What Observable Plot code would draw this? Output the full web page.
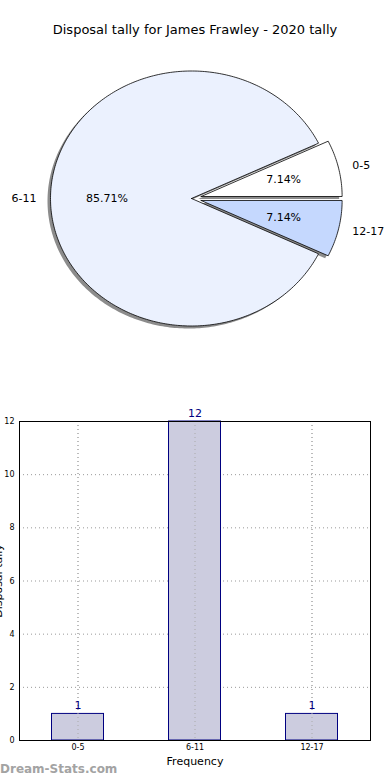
<!DOCTYPE html>
<html><head><meta charset="utf-8">
<script src="https://cdn.jsdelivr.net/npm/d3@7"></script>
<script src="https://cdn.jsdelivr.net/npm/@observablehq/plot@0.6"></script>
<style>
body{margin:0;background:#fff;font-family:"DejaVu Sans",sans-serif;}
#wrap{position:relative;width:390px;height:780px;overflow:hidden;}
#title{position:absolute;left:0;top:22px;width:390px;text-align:center;font-size:13px;color:#000;}
#pie{position:absolute;left:0;top:0;}
#bar{position:absolute;left:0;top:400px;}
#wm{position:absolute;left:0;top:762px;font-size:12px;font-weight:bold;color:#a3a3a3;}
</style></head>
<body><div id="wrap"><div id="pie"></div><div id="bar"></div><div id="title">Disposal tally for James Frawley - 2020 tally</div><div id="wm">Dream-Stats.com</div></div>
<script>
const categories = ["0-5", "6-11", "12-17"];
const counts = [1, 12, 1];
const pieColors = ["#ffffff", "#ebf1fe", "#c5d8fe"];
const explode = [0.07, 0, 0.07];
const yTicks = [0, 2, 4, 6, 8, 10, 12];
const xLabel = "Frequency";
const yLabel = "Disposal tally";

const total = d3.sum(counts);
const wedges = [], labels = [];
let a = 0;
categories.forEach((c, i) => {
  const a0 = a, a1 = a + counts[i] / total * 2 * Math.PI;
  a = a1;
  const mid = (a0 + a1) / 2;
  const ox = explode[i] * Math.cos(mid), oy = explode[i] * Math.sin(mid);
  wedges.push({slice: c, fill: pieColors[i], x: ox, y: oy});
  const n = Math.max(8, Math.ceil((a1 - a0) / (Math.PI / 180)));
  for (let k = 0; k <= n; k++) {
    const t = a0 + (a1 - a0) * k / n;
    wedges.push({slice: c, fill: pieColors[i], x: ox + Math.cos(t), y: oy + Math.sin(t)});
  }
  wedges.push({slice: c, fill: pieColors[i], x: ox, y: oy});
  const lx = ox + 1.1 * Math.cos(mid), ly = oy + 1.1 * Math.sin(mid);
  labels.push({text: c, x: lx, y: ly, anchor: lx > 0 ? "start" : "end"});
  labels.push({text: (counts[i] / total * 100).toFixed(2) + "%", x: ox + 0.6 * Math.cos(mid), y: oy + 0.6 * Math.sin(mid), anchor: "middle"});
});

const cx = 191, cy = 198, rx = 141, ry = 127.5;
const pie = Plot.plot({
  width: 390, height: 400, margin: 0,
  style: {fontFamily: "DejaVu Sans", fontSize: "11px", background: "transparent"},
  x: {type: "linear", domain: [-1, 1], range: [cx - rx, cx + rx], axis: null},
  y: {type: "linear", domain: [-1, 1], range: [cy + ry, cy - ry], axis: null},
  color: {type: "identity"},
  marks: [
    Plot.line(wedges, {x: "x", y: "y", z: "slice", fill: "#808080", fillOpacity: 0.9, stroke: "none", dx: -3, dy: 2.5, curve: "linear"}),
    Plot.line(wedges, {x: "x", y: "y", z: "slice", fill: "fill", stroke: "#000", strokeWidth: 0.8, curve: "linear"}),
    ...labels.map(l => Plot.text([l], {x: "x", y: "y", text: "text", textAnchor: l.anchor, fill: "#000", fontSize: 11}))
  ]
});
document.getElementById("pie").appendChild(pie);

const barData = categories.map((c, i) => ({cat: c, v: counts[i]}));
const bar = Plot.plot({
  width: 390, height: 380,
  marginLeft: 19, marginRight: 20, marginTop: 21, marginBottom: 40,
  style: {fontFamily: "DejaVu Sans", fontSize: "8px", background: "transparent", overflow: "visible"},
  x: {type: "band", domain: categories, padding: 0},
  y: {domain: [0, 12]},
  marks: [
    Plot.gridY(yTicks, {stroke: "#999", strokeOpacity: 1, strokeDasharray: "1,3"}),
    Plot.gridX(categories, {stroke: "#999", strokeOpacity: 1, strokeDasharray: "1,3"}),
    Plot.barY(barData, {x: "cat", y: "v", fill: "#ccccdf", stroke: "#000080", strokeWidth: 1, insetLeft: 32.5, insetRight: 32.5}),
    Plot.gridX(categories, {stroke: "#aaa", strokeOpacity: 1, strokeDasharray: "1,3"}),
    Plot.text(barData, {x: "cat", y: "v", text: d => String(d.v), dy: -8, fill: "#000080", fontSize: 11}),
    Plot.frame({stroke: "#000", strokeWidth: 1}),
    Plot.axisY(yTicks, {tickSize: 0, tickPadding: 5, fontSize: 8, label: null, tickFormat: d => String(d)}),
    Plot.axisX({tickSize: 0, tickPadding: 4, fontSize: 8, label: null}),
    Plot.text([xLabel], {frameAnchor: "bottom", lineAnchor: "middle", dy: 21, fontSize: 11, fill: "#000"}),
    Plot.text([yLabel], {frameAnchor: "left", textAnchor: "middle", lineAnchor: "middle", dx: -21, rotate: -90, fontSize: 11, fill: "#000"})
  ]
});
document.getElementById("bar").appendChild(bar);
</script></body></html>
